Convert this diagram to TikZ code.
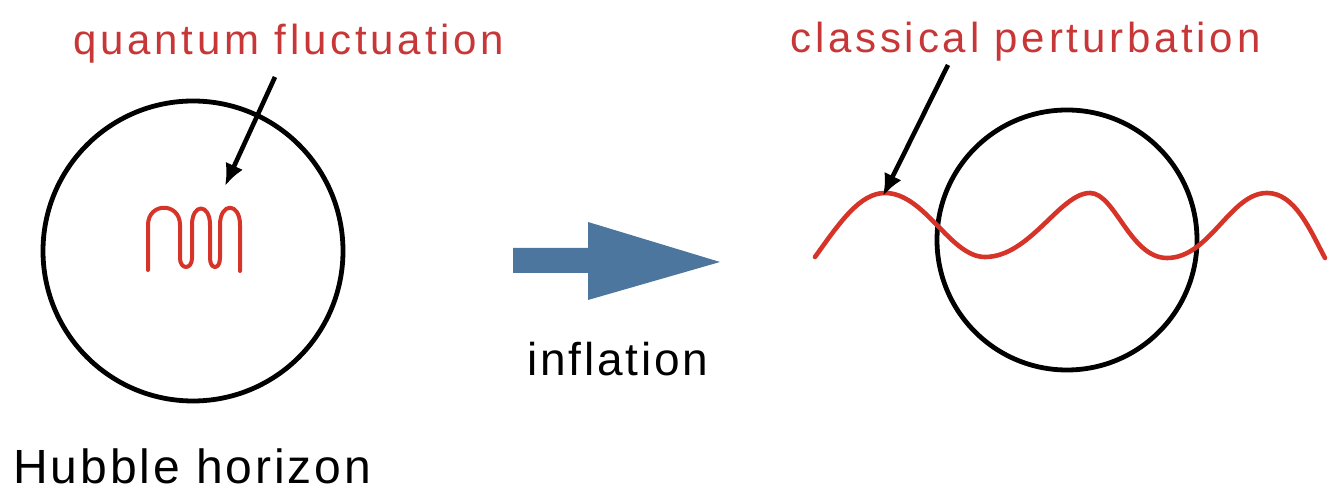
\documentclass[tikz,border=0pt]{standalone}
\usepackage{fontspec}
\setmainfont{Liberation Sans}
\newfontfamily\lsp[LetterSpace=9]{Liberation Sans}
\newfontfamily\lspb[LetterSpace=6]{Liberation Sans}
\usetikzlibrary{arrows.meta}
\definecolor{wred}{RGB}{214,52,40}
\definecolor{tred}{RGB}{200,55,55}
\definecolor{ablue}{RGB}{76,118,158}
\begin{document}
\begin{tikzpicture}[x=0.5pt,y=-0.5pt,
  horizon/.style={draw=black,line width=2.4pt},
  redline/.style={draw=wred,line width=2.3pt,line cap=round,line join=round},
  pointer/.style={draw=black,line width=2.3pt,-{Latex[length=11pt,width=9.5pt]}},
  redlabel/.style={inner sep=0pt,anchor=base west,text=tred,font=\lsp\fontsize{21pt}{24pt}\selectfont},
  blacklabel/.style={inner sep=0pt,anchor=base west,text=black,font=\lspb\fontsize{23pt}{26pt}\selectfont}]
\useasboundingbox (0,0) rectangle (1328,490);
% left horizon
\node[horizon,circle,minimum size=150pt,inner sep=0pt] (lc) at (193,251) {};
% right horizon
\node[horizon,circle,minimum size=130pt,inner sep=0pt] (rc) at (1067,240) {};
% labels
\node[redlabel] (qf) at (73,55) {quantum fluctuation};
\node[redlabel] (cp) at (790,53) {classical perturbation};
\node[blacklabel] (inf) at (527,376) {inflation};
\node[blacklabel,font=\lspb\fontsize{24pt}{27pt}\selectfont] (hh) at (13,484) {Hubble horizon};
% quantum fluctuation squiggle
\draw[redline,line width=2pt] (148,270) -- (148,225)
  .. controls (148,202) and (180,202) .. (180,225) -- (180,258)
  .. controls (180,270) and (192,270) .. (192,258) -- (192,225)
  .. controls (192,203) and (210,203) .. (210,225) -- (210,258)
  .. controls (210,270) and (220,270) .. (220,258) -- (220,225)
  .. controls (220,202) and (240,202) .. (240,225) -- (240,271);
% classical perturbation wave
\draw[redline] (815,257) .. controls (840,222) and (860,193) .. (885,193)
  .. controls (925,193) and (950,257) .. (985,257)
  .. controls (1030,257) and (1060,193) .. (1090,193)
  .. controls (1115,193) and (1130,258) .. (1167,258)
  .. controls (1210,258) and (1230,193) .. (1267,193)
  .. controls (1295,193) and (1310,230) .. (1325,258);
% pointers
\coordinate (qa) at (275,77);
\coordinate (qt) at (225,186);
\draw[pointer] (qa) -- (qt);
\coordinate (ca) at (948,65);
\coordinate (ct) at (883,196);
\draw[pointer] (ca) -- (ct);
% inflation arrow
\fill[ablue] (513,248) -- (588,248) -- (588,222) -- (720,262) -- (588,300) -- (588,273) -- (513,273) -- cycle;
\end{tikzpicture}
\end{document}
